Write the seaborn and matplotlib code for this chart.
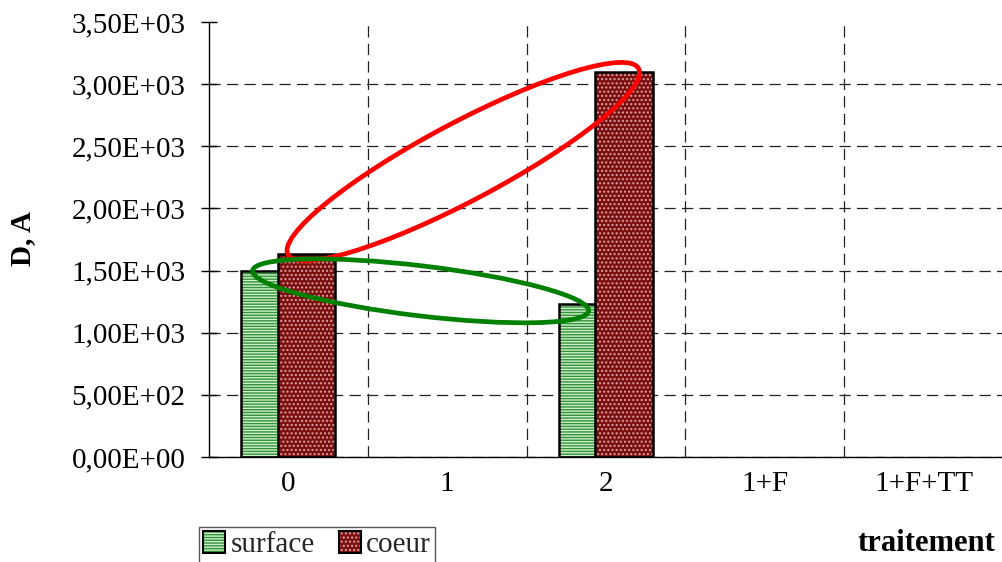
import numpy as np
import pandas as pd
import matplotlib
matplotlib.use("Agg")
import matplotlib.pyplot as plt
from matplotlib.patches import Ellipse, Patch
from matplotlib.ticker import FuncFormatter, FixedLocator
from matplotlib.transforms import IdentityTransform
import seaborn as sns

# data
categories = ["0", "1", "2", "1+F", "1+F+TT"]
surface = [1500, np.nan, 1230, np.nan, np.nan]
coeur = [1635, np.nan, 3095, np.nan, np.nan]
yticks = np.arange(0, 3501, 500)

sns.set_theme(style="white")
plt.rcParams['font.family'] = ['Liberation Serif', 'DejaVu Serif']
plt.rcParams['hatch.linewidth'] = 1.0

fig = plt.figure(figsize=(10.03, 5.62), dpi=100)
ax = fig.add_axes([209 / 1003, 105 / 562, 794 / 1003, 435 / 562])

df = pd.DataFrame({"traitement": categories, "surface": surface, "coeur": coeur})

W = 0.365
series = [
    ("surface", -0.114, "#d3ecce", "#2f9535", "------"),
    ("coeur", 0.114, "#7c0f0f", "#d8a2a2", "...."),
]
handles = []
for name, off, face, hcol, hatch in series:
    # hatched fill
    n0 = len(ax.patches)
    sns.barplot(data=df, x="traitement", y=name, order=categories, color=face,
                saturation=1, width=W, errorbar=None, ax=ax)
    for p in ax.patches[n0:]:
        p.set_x(p.get_x() + off)
        p.set_facecolor(face)
        p.set_edgecolor(hcol)
        p.set_linewidth(0)
        p.set_hatch(hatch)
    # black outline on top
    n0 = len(ax.patches)
    sns.barplot(data=df, x="traitement", y=name, order=categories, color=face,
                saturation=1, width=W, errorbar=None, ax=ax)
    for p in ax.patches[n0:]:
        p.set_x(p.get_x() + off)
        p.set_facecolor("none")
        p.set_edgecolor("black")
        p.set_linewidth(1.8)
    handles.append((Patch(facecolor=face, edgecolor=hcol, hatch=hatch, linewidth=0),
                    Patch(facecolor="none", edgecolor="black", linewidth=1.5)))

ax.set_xlim(-0.5, 4.5)
ax.set_ylim(0, 3500)
ax.set_yticks(yticks)
ax.yaxis.set_major_formatter(FuncFormatter(lambda v, _: f"{v:.2E}".replace(".", ",")))
ax.xaxis.set_minor_locator(FixedLocator(np.arange(0.5, 4, 1)))

dash = (0, (9, 5))
ax.grid(True, axis="y", which="major", color="#222222", linestyle=dash, linewidth=0.9)
ax.grid(True, axis="x", which="minor", color="#222222", linestyle=dash, linewidth=0.9)
ax.set_axisbelow(True)
ax.yaxis.get_major_ticks()[-1].gridline.set_visible(False)

ax.tick_params(axis="x", which="both", length=0, pad=10, labelsize=21, labelcolor="black")
ax.tick_params(axis="y", direction="inout", length=12, width=1, pad=11,
               labelsize=21, labelcolor="black", color="black")
ax.tick_params(left=True)

for s in ["top", "right"]:
    ax.spines[s].set_visible(False)
for s in ["left", "bottom"]:
    ax.spines[s].set_color("black")
    ax.spines[s].set_linewidth(1.0)

ax.set_ylabel("D, A", fontsize=21, fontweight="bold", color="black")
ax.yaxis.set_label_coords(-0.218, 0.503)
ax.set_xlabel("traitement", fontsize=22, fontweight="bold", color="black")
ax.xaxis.set_label_coords(0.904, -0.166)

fig.legend(handles, ["surface", "coeur"], loc="upper left",
           bbox_to_anchor=(199 / 1003, 1 - 527 / 562), ncol=2, fontsize=21,
           frameon=True, fancybox=False, edgecolor="#555555", framealpha=1,
           borderpad=0.15, borderaxespad=0, handlelength=0.75, handleheight=0.75,
           handletextpad=0.2, columnspacing=0.8)


# highlight rings linking the bars of each series
def ring(p0, p1, stretch, thick, shift, turn, color):
    a = ax.transData.transform(p0)
    b = ax.transData.transform(p1)
    mid = (a + b) / 2 + np.array(shift)
    d = b - a
    length = np.hypot(*d) * stretch
    ang = np.degrees(np.arctan2(d[1], d[0])) + turn
    ax.add_patch(Ellipse(mid, length, thick, angle=ang, transform=IdentityTransform(),
                         fill=False, edgecolor=color, linewidth=3.4, clip_on=False, zorder=5))


ring((0.114, coeur[0]), (2.114, coeur[2]), 1.085, 78, (-2, 1.5), -1.8, "#ff0000")
ring((-0.114, surface[0]), (1.886, surface[2]), 1.06, 50, (-8.5, -3.5), -0.8, "#008000")

fig.savefig("out.png", dpi=100)
